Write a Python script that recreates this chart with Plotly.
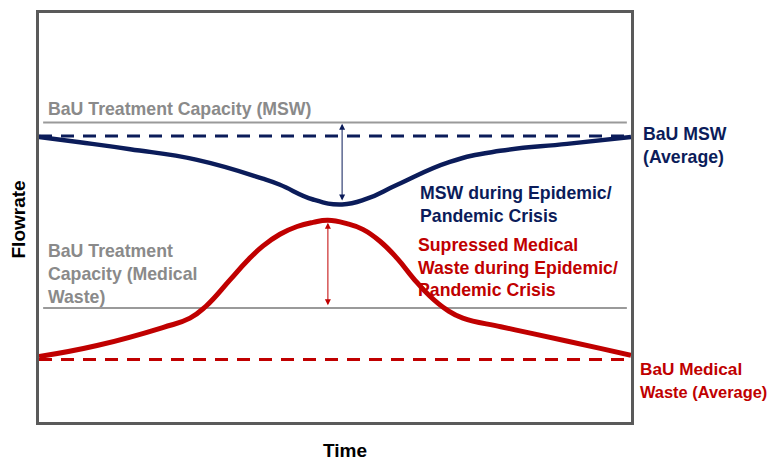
import plotly.graph_objects as go

# ---- data (arbitrary units, time 0..100, flowrate 0..100) ----
msw_time = [0, 6.9, 15.4, 26.7, 37.8, 40.7, 46.3, 51.2, 55.4, 60.5, 69.4, 77.9, 89.2, 100]
msw_flow = [69.7, 68.4, 66.7, 64.1, 59.5, 58.0, 54.4, 53.2, 54.6, 58.0, 63.6, 66.3, 68.0, 69.7]

med_time = [0, 9.8, 20.9, 25.5, 28.2, 32.3, 35.1, 37.8, 40.7, 43.6, 46.3, 48.8, 52.0,
            54.7, 57.6, 60.5, 63.2, 66.0, 68.9, 71.6, 78.0, 83.4, 94.8, 100]
med_flow = [16.0, 18.7, 23.1, 25.4, 28.3, 34.8, 39.3, 43.0, 45.9, 47.8, 48.8, 49.3, 48.5,
            47.1, 44.2, 40.0, 35.2, 30.8, 27.4, 25.4, 23.3, 21.6, 18.0, 16.3]

bau_msw = 69.9
bau_med = 15.3
cap_msw = 73.2
cap_med = 27.9
line_x = [0, 100]
cap_x = [0.7, 99.3]

NAVY = "#0b1c5a"
RED = "#c00000"
GRAY = "#9a9a9a"
GRAY_TXT = "#8a8a8a"
FONT = "Arial, Liberation Sans, sans-serif"

fig = go.Figure()

fig.add_trace(go.Scatter(x=cap_x, y=[cap_msw, cap_msw], mode="lines",
                         line=dict(color=GRAY, width=2), hoverinfo="skip"))
fig.add_trace(go.Scatter(x=cap_x, y=[cap_med, cap_med], mode="lines",
                         line=dict(color=GRAY, width=2), hoverinfo="skip"))
fig.add_trace(go.Scatter(x=line_x, y=[bau_msw, bau_msw], mode="lines",
                         line=dict(color=NAVY, width=3, dash="13px,9px"), hoverinfo="skip"))
fig.add_trace(go.Scatter(x=line_x, y=[bau_med, bau_med], mode="lines",
                         line=dict(color=RED, width=3, dash="13px,9px"), hoverinfo="skip"))
fig.add_trace(go.Scatter(x=msw_time, y=msw_flow, mode="lines",
                         line=dict(color=NAVY, width=4.5, shape="spline", smoothing=1.3),
                         hoverinfo="skip"))
fig.add_trace(go.Scatter(x=med_time, y=med_flow, mode="lines",
                         line=dict(color=RED, width=5, shape="spline", smoothing=1.3),
                         hoverinfo="skip"))

# arrows
i_min = msw_flow.index(min(msw_flow))
x_arrow_msw = msw_time[i_min]
fig.add_annotation(x=x_arrow_msw, y=cap_msw - 0.3, ax=x_arrow_msw, ay=msw_flow[i_min] + 0.6,
                   xref="x", yref="y", axref="x", ayref="y", text="", showarrow=True,
                   arrowhead=2, startarrowhead=2, arrowside="end+start", arrowsize=1.2,
                   startarrowsize=1.2, arrowwidth=1, arrowcolor=NAVY)
i_max = med_flow.index(max(med_flow))
x_arrow_med = med_time[i_max]
fig.add_annotation(x=x_arrow_med, y=med_flow[i_max] - 0.6, ax=x_arrow_med, ay=cap_med + 0.3,
                   xref="x", yref="y", axref="x", ayref="y", text="", showarrow=True,
                   arrowhead=2, startarrowhead=2, arrowside="end+start", arrowsize=1.2,
                   startarrowsize=1.2, arrowwidth=1, arrowcolor=RED)

# page body has an 8px margin; positions below are in window pixels
OFF = 8
W, H = 772, 452
L, R, T, B = 39 - OFF, 631 - OFF, 10 - OFF, 422 - OFF

def px(xp, yp):
    xp -= OFF
    yp -= OFF
    return (xp - L) / (R - L), (B - yp) / (B - T)

def label(text, xp, yp, color, size=17.7):
    xx, yy = px(xp, yp)
    fig.add_annotation(x=xx, y=yy, xref="paper", yref="paper", text="<b>" + text + "</b>",
                       showarrow=False, xanchor="left", yanchor="middle",
                       font=dict(family=FONT, size=size, color=color))

label("BaU Treatment Capacity (MSW)", 46, 107, GRAY_TXT)
label("BaU Treatment", 46, 250, GRAY_TXT)
label("Capacity (Medical", 46, 273, GRAY_TXT)
label("Waste)", 46, 296, GRAY_TXT)
label("BaU MSW", 641, 132, NAVY)
label("(Average)", 641, 155, NAVY)
label("MSW during Epidemic/", 418, 191, NAVY)
label("Pandemic Crisis", 418, 214, NAVY)
label("Supressed Medical", 416, 244, RED)
label("Waste during Epidemic/", 416, 267, RED)
label("Pandemic Crisis", 416, 289, RED)
label("BaU Medical", 638, 369, RED, size=17.2)
label("Waste (Average)", 638, 392, RED, size=16.4)

xx, yy = px(18, 218)
fig.add_annotation(x=xx, y=yy, xref="paper", yref="paper", text="<b>Flowrate</b>",
                   showarrow=False, textangle=-90, xanchor="center", yanchor="middle",
                   font=dict(family=FONT, size=19, color="#000000"))
xx, yy = px(345, 451)
fig.add_annotation(x=xx, y=yy, xref="paper", yref="paper", text="<b>Time</b>",
                   showarrow=False, xanchor="center", yanchor="middle",
                   font=dict(family=FONT, size=19, color="#000000"))

fig.update_layout(
    width=W, height=H,
    margin=dict(l=L, r=W - R, t=T, b=H - B),
    paper_bgcolor="white", plot_bgcolor="white",
    showlegend=False,
)
fig.update_xaxes(range=[0, 100], showgrid=False, zeroline=False, showticklabels=False,
                 ticks="", showline=True, mirror=True, linecolor="#5a5a5a", linewidth=2.5)
fig.update_yaxes(range=[0, 100], showgrid=False, zeroline=False, showticklabels=False,
                 ticks="", showline=True, mirror=True, linecolor="#5a5a5a", linewidth=2.5)

fig.write_html("out.html")
